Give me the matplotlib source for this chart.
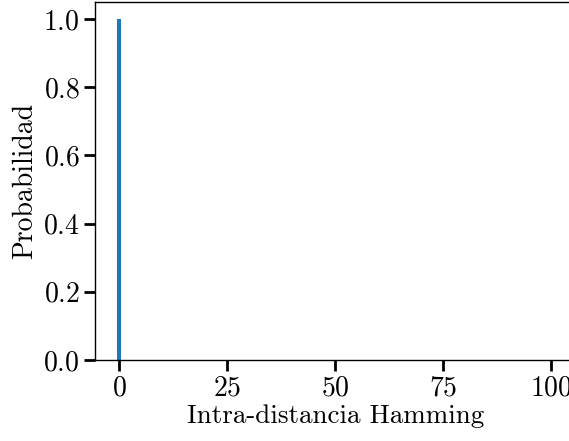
import matplotlib
matplotlib.use('Agg')
import matplotlib.pyplot as plt

# Intra-distance Hamming histogram (normalised)
distances = list(range(0, 101))
probabilities = [1.0] + [0.0] * 100

plt.rcParams['font.family'] = 'cmr10'
plt.rcParams['mathtext.fontset'] = 'cm'
plt.rcParams['axes.formatter.use_mathtext'] = True

fig = plt.figure(figsize=(5.69, 4.41), dpi=100)
ax = fig.add_axes([0.167, 0.1837, 0.844, 0.8118])

ax.bar(distances, probabilities, width=1.0, color='#1f77b4')

ax.set_xlim(-5.55, 105.55)
ax.set_ylim(0, 1.05)
ax.set_xticks([0, 25, 50, 75, 100])
ax.set_yticks([0.0, 0.2, 0.4, 0.6, 0.8, 1.0])

ax.set_xlabel('Intra-distancia Hamming', fontsize=19.5, labelpad=2)
ax.set_ylabel('Probabilidad', fontsize=20, labelpad=3.5)
ax.tick_params(axis='both', labelsize=20, direction='out', length=8, width=2, pad=3)
for s in ax.spines.values():
    s.set_linewidth(1.0)

fig.savefig('out.png', dpi=100)
